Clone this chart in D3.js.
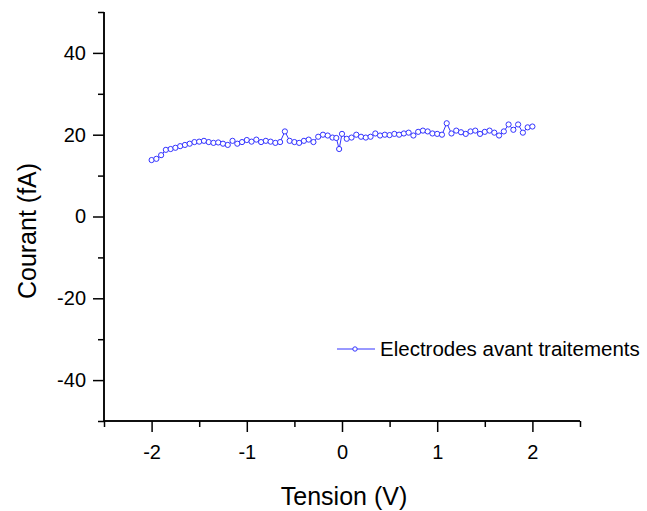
<!DOCTYPE html>
<html><head><meta charset="utf-8">
<script src="https://cdn.jsdelivr.net/npm/d3@7"></script>
<style>body{margin:0;background:#fff}svg{display:block}text{font-family:Arial,"Liberation Sans",sans-serif;fill:#000}</style>
</head><body>
<script>
const voltages = [-2,-1.95,-1.9,-1.85,-1.8,-1.75,-1.7,-1.65,-1.6,-1.55,-1.5,-1.45,-1.4,-1.35,-1.3,-1.25,-1.2,-1.15,-1.1,-1.05,-1,-0.95,-0.9,-0.85,-0.8,-0.75,-0.7,-0.65,-0.6,-0.55,-0.5,-0.45,-0.4,-0.35,-0.3,-0.25,-0.2,-0.15,-0.1,-0.06,-0.03,0,0.05,0.1,0.15,0.2,0.25,0.3,0.35,0.4,0.45,0.5,0.55,0.6,0.65,0.7,0.75,0.8,0.85,0.9,0.95,1,1.05,1.1,1.15,1.2,1.25,1.3,1.35,1.4,1.45,1.5,1.55,1.6,1.65,1.7,1.75,1.8,1.85,1.9,1.95,2];
const currents = [13.8,14.1,15.0,16.3,16.5,16.8,17.2,17.5,17.8,18.2,18.3,18.5,18.2,18.0,18.1,17.8,17.5,18.5,17.8,18.2,18.7,18.3,18.8,18.2,18.5,18.3,18.0,18.2,20.8,18.5,18.2,18.0,18.5,18.8,18.2,19.5,20.0,19.8,19.3,19.2,16.5,20.2,19.0,19.3,20.0,19.5,19.3,19.5,20.3,19.8,20.0,19.9,20.2,20.0,20.3,20.5,19.8,20.7,21.0,20.8,20.3,20.2,20.0,22.8,20.3,21.0,20.6,20.2,20.8,21.0,20.2,20.7,21.0,20.5,19.8,20.8,22.5,21.2,22.5,20.5,21.8,22.0];
const xMajor = [-2,-1,0,1,2];
const xMinor = [-2.5,-1.5,-0.5,0.5,1.5,2.5];
const yMajor = [-40,-20,0,20,40];
const yMinor = [-50,-30,-10,10,30,50];
const seriesName = "Electrodes avant traitements";
const xTitle = "Tension (V)";
const yTitle = "Courant (fA)";

const W = 647, H = 511;
const svg = d3.select("body").append("svg").attr("width", W).attr("height", H);
const x = d3.scaleLinear().domain([-2.5, 2.5]).range([104, 580]);
const y = d3.scaleLinear().domain([-50, 50]).range([421, 12]);
const color = "#3333ff";
const fmt = d => String(d);

// axes
const gx = svg.append("g").attr("transform", `translate(0,${y(-50)})`);
gx.call(d3.axisBottom(x).tickValues(xMajor).tickSize(11).tickPadding(9).tickFormat(fmt));
gx.append("g").call(d3.axisBottom(x).tickValues(xMinor).tickSize(6).tickFormat(""));
const gy = svg.append("g").attr("transform", `translate(${x(-2.5)},0)`);
gy.call(d3.axisLeft(y).tickValues(yMajor).tickSize(11).tickPadding(7).tickFormat(fmt));
gy.append("g").call(d3.axisLeft(y).tickValues(yMinor).tickSize(6).tickFormat(""));
svg.selectAll(".domain").attr("stroke", "#000").attr("stroke-width", 1.5);
svg.selectAll(".tick line").attr("stroke", "#000").attr("stroke-width", 1.5);
svg.selectAll(".tick text").style("font-size", "20px").style("font-family", "Arial, 'Liberation Sans', sans-serif").attr("fill", "#000");
gx.selectAll(".domain").attr("d", `M${x(-2.5)},0H${x(2.5)}`);
gy.selectAll(".domain").attr("d", `M0,${y(50)}V${y(-50)}`);
gx.selectAll(".tick text").attr("dy", "0.9em");
// titles
svg.append("text").attr("x", x(0) + 2).attr("y", 505).attr("text-anchor", "middle").style("font-size", "25px").text(xTitle);
svg.append("text").attr("transform", `translate(36,231) rotate(-90)`).attr("text-anchor", "middle").style("font-size", "25px").text(yTitle);

// data
const pts = voltages.map((v, i) => [v, currents[i]]);
svg.append("path").datum(pts).attr("fill", "none").attr("stroke", color).attr("stroke-width", 1)
  .attr("d", d3.line().x(d => x(d[0])).y(d => y(d[1])));
svg.append("g").selectAll("circle").data(pts).join("circle")
  .attr("cx", d => x(d[0])).attr("cy", d => y(d[1])).attr("r", 2.6)
  .attr("fill", "#fff").attr("stroke", color).attr("stroke-width", 1);

// legend
const ly = 349;
svg.append("line").attr("x1", 337).attr("x2", 375).attr("y1", ly).attr("y2", ly).attr("stroke", color).attr("stroke-width", 1);
svg.append("circle").attr("cx", 355).attr("cy", ly).attr("r", 2.2).attr("fill", "#fff").attr("stroke", color);
svg.append("text").attr("x", 380).attr("y", ly + 7).style("font-size", "20.5px").text(seriesName);
</script>
</body></html>
